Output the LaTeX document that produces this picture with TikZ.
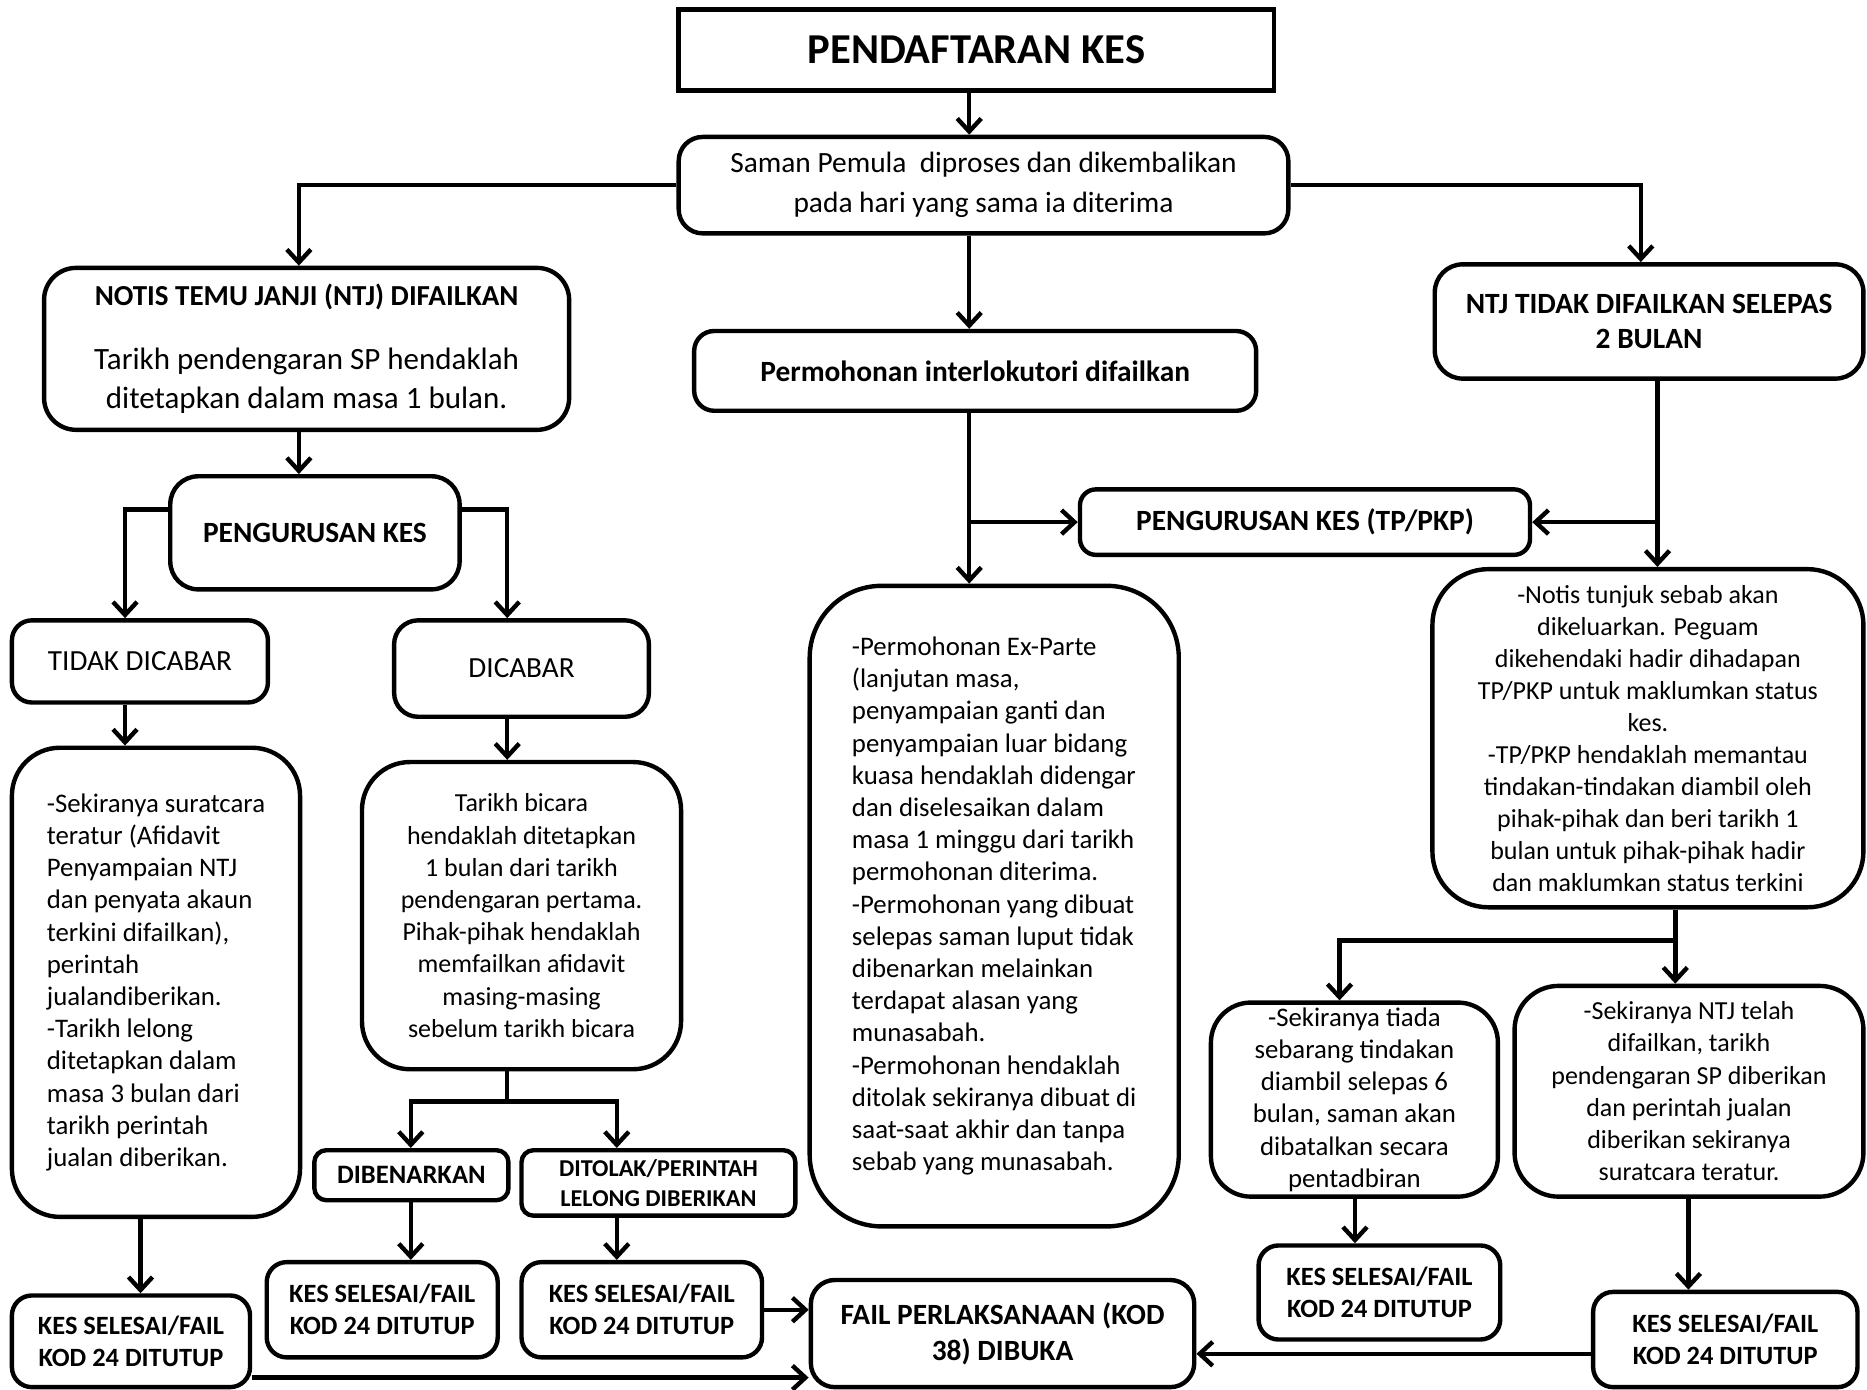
\documentclass[tikz,border=0pt]{standalone}
\usepackage{fontspec}
\setmainfont{Carlito}
\usetikzlibrary{arrows.meta}
\begin{document}
\begin{tikzpicture}[x=0.5954pt,y=-0.5954pt,
  bx/.style={draw, line width=2.2pt, inner sep=0pt, align=center},
  rc/.style={bx, rounded corners=#1},
  rc/.default=8pt,
  sz/.style 2 args={minimum width=#1*0.5954pt, minimum height=#2*0.5954pt},
  arr/.style={line width=2.2pt, -{Straight Barb[length=6.5pt,width=12pt]}},
  ln/.style={line width=2.2pt},
  body/.style={font=\fontsize{13}{16.1}\selectfont},
  lbody/.style={font=\fontsize{13.4}{16.1}\selectfont},
  hd/.style={font=\bfseries\fontsize{14.7}{17.9}\selectfont},
  kes/.style={font=\bfseries\fontsize{13.2}{16}\selectfont},
]
\useasboundingbox (0,0) rectangle (1568,1167);

% columns / rows
\coordinate (xT) at (814,0);
\coordinate (xA) at (251,0);
\coordinate (xR) at (1378,0);
\coordinate (xL) at (105,0);
\coordinate (xD) at (426,0);
\coordinate (yP) at (0,428);
\coordinate (j1) at (426,925);
\coordinate (xB) at (345,0);
\coordinate (xC) at (518,0);
\coordinate (xS) at (118,0);
\coordinate (y1) at (0,1157);
\coordinate (y5) at (0,1137);
\coordinate (xN) at (1392,0);
\coordinate (j2) at (1407,790);
\coordinate (xE) at (1125,0);
\coordinate (xF) at (1138,0);
\coordinate (xG) at (1418,0);

% boxes
\node[bx, sz={500}{68}, font=\bfseries\fontsize{21.3}{24}\selectfont] (title) at (820,42) {PENDAFTARAN KES};
\node[rc=12pt, sz={512}{81}, font=\fontsize{14.7}{20}\selectfont] (saman) at (826,155.5) {Saman Pemula\ \ diproses dan dikembalikan\\pada hari yang sama ia diterima};
\node[rc=16pt, sz={441}{136}, font=\fontsize{15.5}{19.6}\selectfont] (ntj) at (257.5,293) {{\bfseries\fontsize{14.5}{15}\selectfont NOTIS TEMU JANJI (NTJ) DIFAILKAN}\\[12pt]Tarikh pendengaran SP hendaklah\\ditetapkan dalam masa 1 bulan.};
\node[rc=10pt, sz={472}{67}, hd] (perm) at (819,311.5) {Permohonan interlokutori difailkan};
\node[rc=14pt, sz={360}{96}, hd] (ntjt) at (1385,270) {NTJ TIDAK DIFAILKAN SELEPAS\\2 BULAN};
\node[rc=14pt, sz={243}{95}, hd] (peng) at (264.5,447.5) {PENGURUSAN KES};
\node[rc=8pt, sz={378}{55}, hd] (tp) at (1096,438.5) {PENGURUSAN KES (TP/PKP)};
\node[rc=10pt, sz={215}{69}, font=\fontsize{14.6}{17}\selectfont] (tdc) at (117.5,555.5) {TIDAK DICABAR};
\node[rc=12pt, sz={214}{81}, font=\fontsize{14.6}{17}\selectfont] (dc) at (438,561.5) {DICABAR};
\node[rc=24pt, sz={242}{394}, lbody, align=left] (sur) at (131,825) {-Sekiranya suratcara\\teratur (Afidavit\\Penyampaian NTJ\\dan penyata akaun\\terkini difailkan),\\perintah\\jualandiberikan.\\-Tarikh lelong\\ditetapkan dalam\\masa 3 bulan dari\\tarikh perintah\\jualan diberikan.};
\node[rc=24pt, sz={268}{258}, body] (tb) at (438,769) {Tarikh bicara\\hendaklah ditetapkan\\1 bulan dari tarikh\\pendengaran pertama.\\Pihak-pihak hendaklah\\memfailkan afidavit\\masing-masing\\sebelum tarikh bicara};
\node[rc=6pt, sz={163}{42}, font=\bfseries\fontsize{13.3}{15}\selectfont] (dib) at (345.5,987) {DIBENARKAN};
\node[rc=6pt, sz={230}{55}, font=\bfseries\fontsize{12.1}{14.9}\selectfont] (dit) at (553,993.5) {DITOLAK/PERINTAH\\LELONG DIBERIKAN};
\node[rc=10pt, sz={200}{77}, kes] (k1) at (110,1126.5) {KES SELESAI/FAIL\\KOD 24 DITUTUP};
\node[rc=10pt, sz={194}{80}, kes] (k2) at (321,1100) {KES SELESAI/FAIL\\KOD 24 DITUTUP};
\node[rc=10pt, sz={202}{80}, kes] (k3) at (539,1100) {KES SELESAI/FAIL\\KOD 24 DITUTUP};
\node[rc=12pt, sz={322}{90}, hd] (fail) at (842,1120) {FAIL PERLAKSANAAN (KOD\\38) DIBUKA};
\node[rc=36pt, sz={310}{538}, lbody, align=left] (exp) at (835,761) {-Permohonan Ex-Parte\\(lanjutan masa,\\penyampaian ganti dan\\penyampaian luar bidang\\kuasa hendaklah didengar\\dan diselesaikan dalam\\masa 1 minggu dari tarikh\\permohonan diterima.\\-Permohonan yang dibuat\\selepas saman luput tidak\\dibenarkan melainkan\\terdapat alasan yang\\munasabah.\\-Permohonan hendaklah\\ditolak sekiranya dibuat di\\saat-saat akhir dan tanpa\\sebab yang munasabah.};
\node[rc=28pt, sz={362}{284}, font=\fontsize{13}{16}\selectfont] (notis) at (1384,620) {-Notis tunjuk sebab akan\\dikeluarkan. Peguam\\dikehendaki hadir dihadapan\\TP/PKP untuk maklumkan status\\kes.\\-TP/PKP hendaklah memantau\\tindakan-tindakan diambil oleh\\pihak-pihak dan beri tarikh 1\\bulan untuk pihak-pihak hadir\\dan maklumkan status terkini};
\node[rc=20pt, sz={241}{163}, font=\fontsize{13.4}{16.1}\selectfont] (tiada) at (1137.5,923.5) {-Sekiranya tiada\\sebarang tindakan\\diambil selepas 6\\bulan, saman akan\\dibatalkan secara\\pentadbiran};
\node[rc=22pt, sz={293}{177}, body] (ntjs) at (1418.5,916.5) {-Sekiranya NTJ telah\\difailkan, tarikh\\pendengaran SP diberikan\\dan perintah jualan\\diberikan sekiranya\\suratcara teratur.};
\node[rc=10pt, sz={203}{79}, kes] (k4) at (1158.5,1085.5) {KES SELESAI/FAIL\\KOD 24 DITUTUP};
\node[rc=10pt, sz={222}{80}, kes] (k5) at (1449,1125) {KES SELESAI/FAIL\\KOD 24 DITUTUP};

% connectors
\draw[arr] (title.south -| xT) -- (saman.north -| xT);
\draw[arr] (saman.west) -| (ntj.north -| xA);
\draw[arr] (saman.east) -| (ntjt.north -| xR);
\draw[arr] (saman.south -| xT) -- (perm.north -| xT);
\draw[arr] (ntj.south -| xA) -- (peng.north -| xA);
\draw[arr] (peng.west |- yP) -| (tdc.north -| xL);
\draw[arr] (peng.east |- yP) -| (dc.north -| xD);
\draw[arr] (tdc.south -| xL) -- (sur.north -| xL);
\draw[arr] (dc.south -| xD) -- (tb.north -| xD);
\draw[ln] (tb.south -| j1) -- (j1);
\draw[arr] (j1) -| (dib.north -| xB);
\draw[arr] (j1) -| (dit.north -| xC);
\draw[arr] (dib.south -| xB) -- (k2.north -| xB);
\draw[arr] (dit.south -| xC) -- (k3.north -| xC);
\draw[arr] (sur.south -| xS) -- (k1.north -| xS);
\draw[arr] (k3.east) -- (k3.east -| fail.west);
\draw[arr] (k1.east |- y1) -- (fail.west |- y1);
\draw[arr] (k5.west |- y5) -- (fail.east |- y5);
\draw[arr] (perm.south -| xT) -- (exp.north -| xT);
\draw[arr] (xT |- tp.west) -- (tp.west);
\draw[arr] (ntjt.south -| xN) -- (notis.north -| xN);
\draw[arr] (xN |- tp.east) -- (tp.east);
\draw[ln] (notis.south -| j2) -- (j2);
\draw[arr] (j2) -| (tiada.north -| xE);
\draw[arr] (j2) -- (ntjs.north -| j2);
\draw[arr] (tiada.south -| xF) -- (k4.north -| xF);
\draw[arr] (ntjs.south -| xG) -- (k5.north -| xG);
\end{tikzpicture}
\end{document}
